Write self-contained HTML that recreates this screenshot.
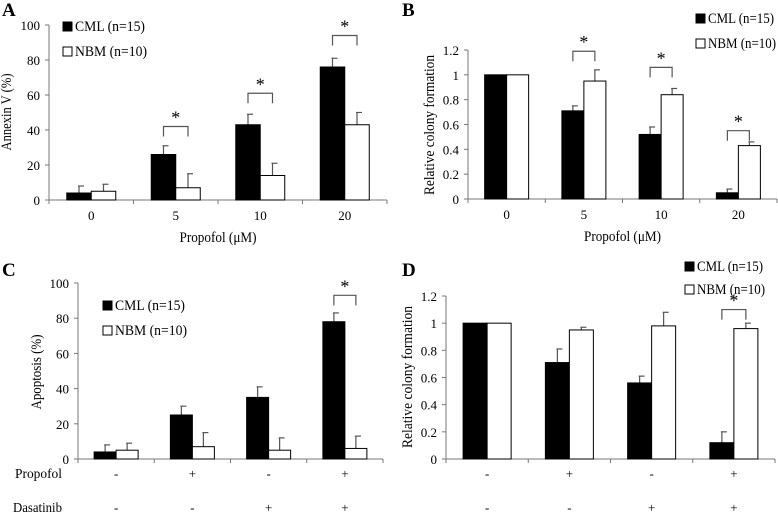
<!DOCTYPE html>
<html><head><meta charset="utf-8"><style>
html,body{margin:0;padding:0;background:#fff;}
svg{display:block;font-family:"Liberation Serif","Times New Roman",Times,serif;}
svg text{font-family:"Liberation Serif","Times New Roman",Times,serif;}
</style></head><body>
<svg id="fig" width="778" height="513"></svg>
<script>
const catsA=["0","5","10","20"];
const cmlA=[4,26,43,76], cmlErrA=[4,5,6,5];
const nbmA=[5,7,14,43], nbmErrA=[4,8,7,7];
const brA=[null,42,61,94];
const ticksA=[0,20,40,60,80,100];

const cmlB=[1,0.71,0.52,0.05], cmlErrB=[0,0.04,0.06,0.03];
const nbmB=[1,0.95,0.84,0.43], nbmErrB=[0,0.09,0.05,0.03];
const brB=[null,1.19,1.06,0.55];
const ticksB=[0,0.2,0.4,0.6,0.8,1,1.2];

const propofolC=["-","+","-","+"], dasatinibC=["-","-","+","+"];
const cmlC=[4,25,35,78], cmlErrC=[4,5,6,5];
const nbmC=[5,7,5,6], nbmErrC=[4,8,7,7];
const brC=[null,null,null,93];

const cmlD=[1,0.71,0.56,0.12], cmlErrD=[0,0.1,0.05,0.08];
const nbmD=[1,0.95,0.98,0.96], nbmErrD=[0,0.02,0.1,0.04];
const brD=[null,null,null,1.10];

const NS="http://www.w3.org/2000/svg";
const FF='"Liberation Serif","Times New Roman",Times,serif';
const svg=document.getElementById('fig');
function el(tag,attrs,parent,text){const e=document.createElementNS(NS,tag);for(const k in attrs)e.setAttribute(k,attrs[k]);if(tag==='text')e.setAttribute('font-family',FF);if(text!==undefined)e.textContent=text;(parent||svg).appendChild(e);return e;}
function fit(e,len){e.setAttribute('textLength',len);e.setAttribute('lengthAdjust','spacingAndGlyphs');}

function panel(p){
  const g=el('g',{});
  
  
  const ys=v=>p.y0-(v/p.ymax)*(p.y0-p.yTop);
  const cw=(p.x1-p.x0)/4;
  const cx=i=>p.x0+cw*i+cw/2;
  const L=el('text',{x:p.lx,y:p.ly,'font-size':19,'font-weight':'bold'},g,p.id);
  
  
  const ya=el('line',{x1:p.x0,y1:p.yTop,x2:p.x0,y2:p.y0,stroke:'#777','stroke-width':1},g);
  
  
  const xa=el('line',{x1:p.x0,y1:p.y0,x2:p.x1,y2:p.y0,stroke:'#777','stroke-width':1},g);
  
  
  p.ticks.forEach(t=>{
    el('line',{x1:p.x0-4,y1:ys(t),x2:p.x0,y2:ys(t),stroke:'#777'},g);
    const tt=el('text',{x:p.x0-9,y:ys(t)+5,'font-size':13,'text-anchor':'end'},g,String(t));
    
    
  });
  for(let i=0;i<=4;i++) el('line',{x1:p.x0+cw*i,y1:p.y0,x2:p.x0+cw*i,y2:p.y0+4,stroke:'#777'},g);
  for(let i=0;i<4;i++){
    const c=cx(i);
    [[p.cml[i],p.cmlE[i],c-p.bw,'#000','bar-cml'],[p.nbm[i],p.nbmE[i],c,'#fff','bar-nbm']].forEach(([v,e,x,f,n])=>{
      if(e>0){el('line',{x1:x+p.bw/2,y1:ys(v),x2:x+p.bw/2,y2:ys(v+e),stroke:'#555','stroke-width':1.2},g);
        el('line',{x1:x+p.bw/2-1,y1:ys(v+e),x2:x+p.bw/2+5,y2:ys(v+e),stroke:'#555','stroke-width':1.2},g);}
      const r=el('rect',{x:x,y:ys(v),width:p.bw,height:p.y0-ys(v),fill:f,stroke:'#000','stroke-width':1},g);
      
      
    });
    if(p.br[i]!=null){
      const by=ys(p.br[i]);
      const b=el('path',{d:`M${c-p.bw/2},${by+10}V${by}H${c+p.bw/2}V${by+10}`,fill:'none',stroke:'#555','stroke-width':1.2},g);
      
      
      el('text',{x:c,y:by-3,'font-size':18,'text-anchor':'middle'},g,'*');
    }
    if(p.cats){
      const t=el('text',{x:c,y:p.y0+20,'font-size':13,'text-anchor':'middle'},g,p.cats[i]);
      
      
    }
    if(p.rows){
      p.rows.forEach(r=>{const t=el('text',{x:c,y:r.y,'font-size':13,'text-anchor':'middle'},g,r.v[i]);
        
        });
    }
  }
  if(p.rowLabels) p.rowLabels.forEach(r=>{const t=el('text',{x:r.x,y:r.y,'font-size':14},g,r.t);
    fit(t,r.w);
    
    });
  if(p.xtitle){const t=el('text',{x:(p.x0+p.x1)/2,y:p.y0+42,'font-size':15,'text-anchor':'middle'},g,p.xtitle);
    fit(t,77);
    
    }
  const yt=el('text',{x:0,y:0,'font-size':15,'text-anchor':'middle',transform:`translate(${p.ytx},${p.yty}) rotate(-90)`},g,p.ytitle);
  fit(yt,p.ytw);
  
  
  [[p.legY,'#000','CML (n=15)'],[p.legY+p.legGap,'#fff','NBM (n=10)']].forEach(([y,f,t],k)=>{
    const lg=el('g',{},g);
    
    
    el('rect',{x:p.legX,y:y-9,width:9,height:9,fill:f,stroke:'#000','stroke-width':1},lg);
    const tx=el('text',{x:p.legX+12,y:y,'font-size':15},lg,t);
    fit(tx,p.legW-(k?0:2));
  });
}

panel({id:'A',lx:2,ly:16,x0:49,x1:387,y0:200,yTop:25,ymax:100,ticks:ticksA,bw:24.5,
  cml:cmlA,cmlE:cmlErrA,nbm:nbmA,nbmE:nbmErrA,br:brA,cats:catsA,xtitle:'Propofol (μM)',
  ytitle:'Annexin V (%)',ytw:77,ytx:11,yty:112,legX:63,legY:31,legGap:25,legW:72});
panel({id:'B',lx:402,ly:16,x0:468,x1:777,y0:199,yTop:50,ymax:1.2,ticks:ticksB,bw:22,
  cml:cmlB,cmlE:cmlErrB,nbm:nbmB,nbmE:nbmErrB,br:brB,cats:catsA,xtitle:'Propofol (μM)',
  ytitle:'Relative colony formation',ytw:140,ytx:434,yty:125,legX:696,legY:23,legGap:25,legW:68});
panel({id:'C',lx:2,ly:276,x0:78,x1:383,y0:459,yTop:283,ymax:100,ticks:ticksA,bw:22,
  cml:cmlC,cmlE:cmlErrC,nbm:nbmC,nbmE:nbmErrC,br:brC,
  rows:[{y:478,v:propofolC},{y:512,v:dasatinibC}],rowLabels:[{x:15,y:478,t:'Propofol',w:47},{x:13,y:512,t:'Dasatinib',w:49}],
  ytitle:'Apoptosis (%)',ytw:75,ytx:41,yty:372,legX:103,legY:310,legGap:25,legW:72});
panel({id:'D',lx:402,ly:276,x0:446,x1:775,y0:459,yTop:296,ymax:1.2,ticks:ticksB,bw:24,
  cml:cmlD,cmlE:cmlErrD,nbm:nbmD,nbmE:nbmErrD,br:brD,
  rows:[{y:478,v:propofolC},{y:512,v:dasatinibC}],
  ytitle:'Relative colony formation',ytw:142,ytx:412,yty:377,legX:685,legY:271,legGap:23,legW:68});
</script>
</body></html>
